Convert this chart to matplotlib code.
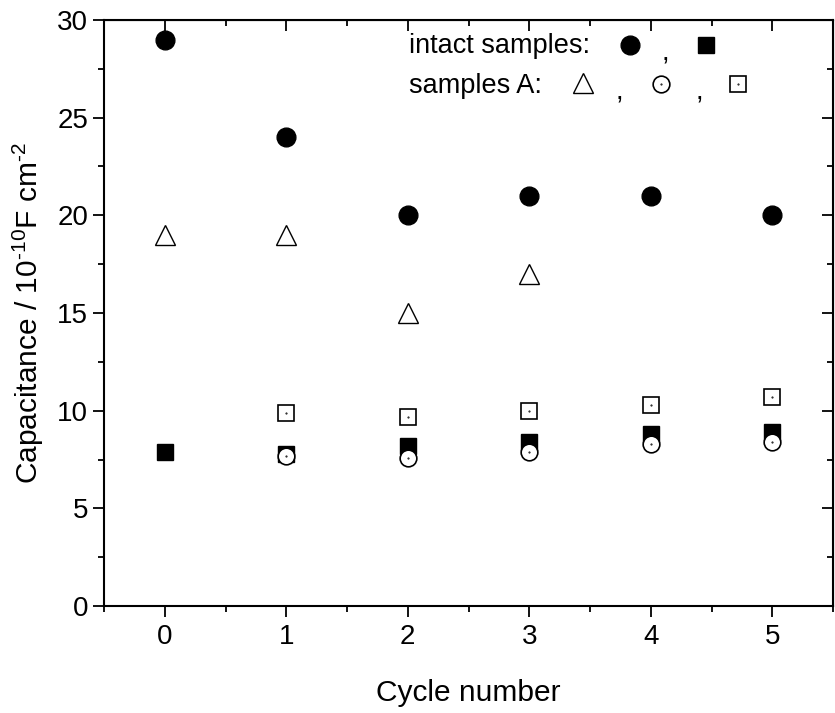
import numpy as np
import matplotlib
matplotlib.use("Agg")
import matplotlib.pyplot as plt

plt.rcParams['font.family'] = ['Liberation Sans', 'DejaVu Sans']
plt.rcParams['mathtext.fontset'] = 'custom'
plt.rcParams['mathtext.rm'] = 'Liberation Sans'

cycles = [0, 1, 2, 3, 4, 5]
intact_circle = [29, 24, 20, 21, 21, 20]
intact_square = [7.9, 7.8, 8.2, 8.4, 8.8, 8.9]
a_cycles_tri = [0, 1, 2, 3]
a_triangle = [19, 19, 15, 17]
a_cycles = [1, 2, 3, 4, 5]
a_circle = [7.7, 7.6, 7.9, 8.3, 8.4]
a_square = [9.9, 9.7, 10.0, 10.3, 10.7]

fig = plt.figure(figsize=(8.35, 7.13), dpi=100)
ax = fig.add_axes([0.1246, 0.150, 0.873, 0.822])

ax.plot(cycles, intact_circle, 'o', color='black', ms=13.5, ls='none')
ax.plot(a_cycles_tri, a_triangle, '^', mfc='white', mec='black', mew=1, ms=15, ls='none')
ax.plot(a_cycles, a_square, 's', mfc='white', mec='black', mew=1.2, ms=11, ls='none')
ax.plot(a_cycles, a_square, '.', color='black', ms=1, ls='none')
ax.plot(cycles, intact_square, 's', color='black', ms=11, ls='none')
ax.plot(a_cycles, a_circle, 'o', mfc='white', mec='black', mew=1.2, ms=12, ls='none')
ax.plot(a_cycles, a_circle, '.', color='black', ms=1, ls='none')

ax.set_xlim(-0.5, 5.5)
ax.set_ylim(0, 30)
ax.set_xticks(cycles)
ax.set_xticks(np.arange(-0.5, 5.6, 1), minor=True)
ax.set_yticks(np.arange(0, 31, 5))
ax.set_yticks(np.arange(2.5, 30, 5), minor=True)
ax.tick_params(axis='both', which='both', labelsize=20, width=1.3, direction='out')
ax.tick_params(which='major', length=8)
ax.tick_params(which='minor', length=4)
ax.tick_params(axis='x', pad=5)
for s in ax.spines.values():
    s.set_linewidth(1.5)

# inward ticks on top and right
sec = ax.secondary_xaxis('top')
sec.set_xticks(cycles)
sec.set_xticks(np.arange(-0.5, 5.6, 1), minor=True)
sec.tick_params(which='both', direction='in', labeltop=False, width=1.3)
sec.tick_params(which='major', length=8)
sec.tick_params(which='minor', length=4)
sec.set_xticklabels([])
secy = ax.secondary_yaxis('right')
secy.set_yticks(np.arange(0, 31, 5))
secy.set_yticks(np.arange(2.5, 30, 5), minor=True)
secy.tick_params(which='both', direction='in', width=1.3)
secy.tick_params(which='major', length=8)
secy.tick_params(which='minor', length=4)
secy.set_yticklabels([])

ax.set_xlabel('Cycle number', fontsize=21.5, labelpad=21)
ax.set_ylabel(r'Capacitance / 10$^{\text{-10}}$F cm$^{\text{-2}}$', fontsize=21.5, labelpad=8)

# hand-made legend
t = ax.transAxes
ax.text(0.418, 0.955, 'intact samples:', transform=t, fontsize=19.5, va='center')
ax.text(0.418, 0.888, 'samples A:', transform=t, fontsize=19.5, va='center')
ax.plot([0.721], [0.957], 'o', color='black', ms=13.5, transform=t, clip_on=False)
ax.text(0.765, 0.943, ',', transform=t, fontsize=19.5, va='center')
ax.plot([0.826], [0.957], 's', color='black', ms=11, transform=t)
ax.plot([0.657], [0.892], '^', mfc='white', mec='black', mew=1, ms=15, transform=t)
ax.text(0.702, 0.876, ',', transform=t, fontsize=19.5, va='center')
ax.plot([0.764], [0.890], 'o', mfc='white', mec='black', mew=1.2, ms=12, transform=t)
ax.plot([0.764], [0.890], '.', color='black', ms=1, transform=t)
ax.text(0.811, 0.876, ',', transform=t, fontsize=19.5, va='center')
ax.plot([0.869], [0.890], 's', mfc='white', mec='black', mew=1.2, ms=11, transform=t)
ax.plot([0.869], [0.890], '.', color='black', ms=1, transform=t)

fig.savefig('out.png', dpi=100)
